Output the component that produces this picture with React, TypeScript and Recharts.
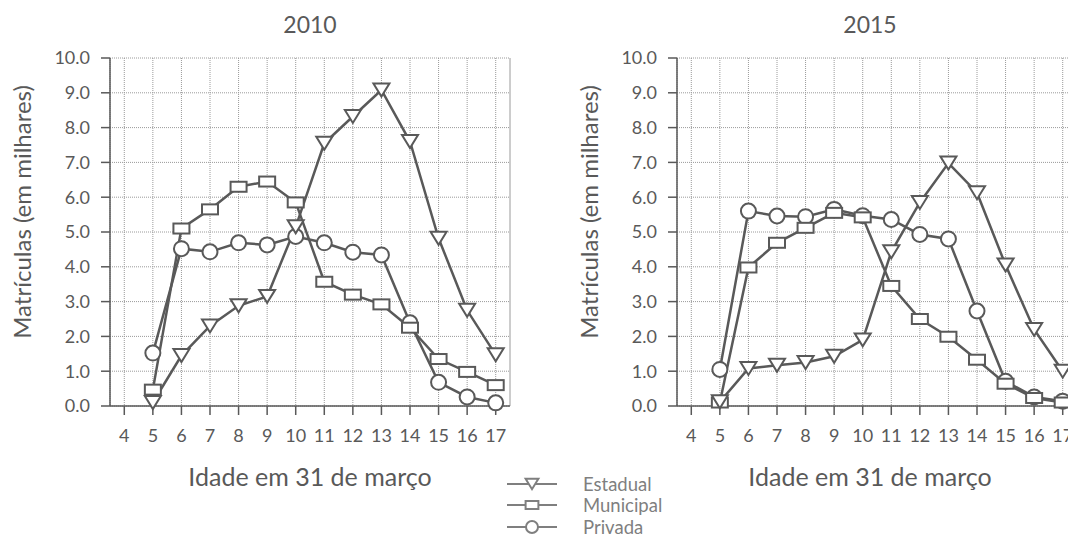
import { LineChart, Line, XAxis, YAxis, CartesianGrid, ReferenceLine, Label } from "recharts";

// idade em 31 de março
const ages = [5, 6, 7, 8, 9, 10, 11, 12, 13, 14, 15, 16, 17];
const xTicks = [4, 5, 6, 7, 8, 9, 10, 11, 12, 13, 14, 15, 16, 17];
const yTicks = [0, 1, 2, 3, 4, 5, 6, 7, 8, 9, 10];

// matrículas em milhares, 2010
const estadual2010 = [0.1, 1.45, 2.3, 2.88, 3.15, 5.15, 7.55, 8.32, 9.08, 7.6, 4.82, 2.75, 1.47];
const municipal2010 = [0.47, 5.1, 5.65, 6.3, 6.45, 5.85, 3.57, 3.2, 2.92, 2.25, 1.35, 0.98, 0.6];
const privada2010 = [1.52, 4.52, 4.43, 4.69, 4.63, 4.87, 4.69, 4.42, 4.34, 2.39, 0.68, 0.26, 0.09];

// matrículas em milhares, 2015
const estadual2015 = [0.12, 1.08, 1.17, 1.25, 1.43, 1.9, 4.43, 5.85, 6.98, 6.13, 4.05, 2.2, 1.0];
const municipal2015 = [0.1, 3.98, 4.69, 5.12, 5.55, 5.42, 3.45, 2.5, 1.99, 1.33, 0.64, 0.23, 0.1];
const privada2015 = [1.05, 5.6, 5.46, 5.44, 5.65, 5.47, 5.36, 4.93, 4.8, 2.73, 0.71, 0.26, 0.14];

const seriesNames = ["Estadual", "Municipal", "Privada"];

const INK = "#595959";
const FONT = "Lato, 'Open Sans', sans-serif";

type Shape = "triangle" | "square" | "circle";

function Marker(props: any) {
  const { cx, cy, shape, color, small } = props;
  if (cx == null || cy == null) return null;
  const k = small ? 0.8 : 1;
  if (shape === "triangle") {
    const w = 8 * k;
    const h = 6.5 * k;
    return (
      <path
        d={`M${cx - w},${cy - h} L${cx + w},${cy - h} L${cx},${cy + h} Z`}
        fill="#fff"
        stroke={color}
        strokeWidth={2}
      />
    );
  }
  if (shape === "square") {
    const w = 8 * k;
    const h = 5 * k;
    return <rect x={cx - w} y={cy - h} width={w * 2} height={h * 2} fill="#fff" stroke={color} strokeWidth={2} />;
  }
  return <circle cx={cx} cy={cy} r={7.5 * k} fill="#fff" stroke={color} strokeWidth={2} />;
}

function buildRows(e: number[], m: number[], p: number[]) {
  return ages.map((age, i) => ({ age, estadual: e[i], municipal: m[i], privada: p[i] }));
}

function Panel({ left, year, rows, center }: { left: number; year: string; rows: any[]; center: number }) {
  const series: { key: string; shape: Shape }[] = [
    { key: "privada", shape: "circle" },
    { key: "municipal", shape: "square" },
    { key: "estadual", shape: "triangle" },
  ];
  return (
    <div style={{ position: "absolute", left, top: 0, width: 560, height: 537 }}>
      <div
        style={{
          position: "absolute",
          left: center - 100,
          width: 200,
          top: 11,
          textAlign: "center",
          fontFamily: FONT,
          fontSize: 23,
          lineHeight: "26px",
          color: INK,
        }}
      >
        {year}
      </div>
      <LineChart width={560} height={537} data={rows} margin={{ top: 58, right: 50, left: 0, bottom: 91 }}>
        <CartesianGrid stroke="#9a9a9a" strokeDasharray="1 1" strokeWidth={1} />
        <ReferenceLine x={17.5} stroke="#9a9a9a" strokeDasharray="1 1" />
        <XAxis
          dataKey="age"
          type="number"
          domain={[3.5, 17.5]}
          ticks={xTicks}
          interval={0}
          height={40}
          stroke={INK}
          strokeWidth={1.5}
          tickSize={9}
          tickMargin={14}
          tick={{ fill: INK, fontSize: 18, fontFamily: FONT }}
        >
          <Label
            content={() => (
              <text x={center} y={486} textAnchor="middle" fill={INK} fontSize={25} fontFamily={FONT}>
                Idade em 31 de março
              </text>
            )}
          />
        </XAxis>
        <YAxis
          type="number"
          domain={[0, 10]}
          ticks={yTicks}
          interval={0}
          width={110}
          stroke={INK}
          strokeWidth={1.5}
          tickSize={9}
          tickMargin={11}
          tickFormatter={(v: number) => v.toFixed(1)}
          tick={{ fill: INK, fontSize: 18, fontFamily: FONT }}
        >
          <Label
            content={() => (
              <text
                x={31}
                y={212}
                transform="rotate(-90, 31, 212)"
                textAnchor="middle"
                fill={INK}
                fontSize={24}
                fontFamily={FONT}
              >
                Matrículas (em milhares)
              </text>
            )}
          />
        </YAxis>
        {series.map((s) => (
          <Line
            key={s.key}
            dataKey={s.key}
            stroke={INK}
            strokeWidth={2.5}
            isAnimationActive={false}
            dot={(p: any) => <Marker key={`${s.key}-${p.index}`} cx={p.cx} cy={p.cy} shape={s.shape} color={INK} />}
            activeDot={false}
          />
        ))}
      </LineChart>
    </div>
  );
}

function LegendBox() {
  const shapes: Shape[] = ["triangle", "square", "circle"];
  const color = "#7f7f7f";
  return (
    <div style={{ position: "absolute", left: 505, top: 473 }}>
      {seriesNames.map((name, i) => (
        <div key={name} style={{ display: "flex", alignItems: "center", height: 21.5 }}>
          <svg width={56} height={20}>
            <line x1={2} y1={10} x2={52} y2={10} stroke={color} strokeWidth={2} />
            <Marker cx={27} cy={10} shape={shapes[i]} color={color} small />
          </svg>
          <span style={{ marginLeft: 22, fontFamily: FONT, fontSize: 18.5, color, lineHeight: "20px" }}>
            {name}
          </span>
        </div>
      ))}
    </div>
  );
}

export default function App() {
  const rows2010 = buildRows(estadual2010, municipal2010, privada2010);
  const rows2015 = buildRows(estadual2015, municipal2015, privada2015);
  return (
    <div
      style={{
        position: "absolute",
        left: 0,
        top: 0,
        width: 1068,
        height: 537,
        overflow: "hidden",
        background: "#fff",
      }}
    >
      <Panel left={0} year="2010" rows={rows2010} center={310} />
      <Panel left={567} year="2015" rows={rows2015} center={303} />
      <LegendBox />
    </div>
  );
}
